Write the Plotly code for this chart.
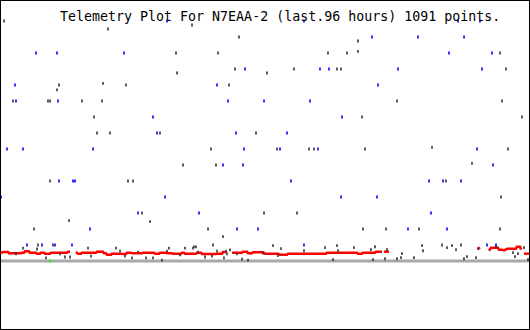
import plotly.graph_objects as go

TITLE = "Telemetry Plot For N7EAA-2 (last.96 hours) 1091 points."

# x: hours within the 96-hour window; y: channel level
blue_hours = [30.25, 55.06, 82.96, 86.94,
              67.38, 75.71, 84.05,
              6.52, 10.32, 22.46, 81.33, 89.12,
              44.38, 57.96, 59.59, 72.09, 87.31,
              2.72, 39.31, 68.47,
              2.90, 10.51, 41.30, 47.82, 56.15,
              27.71, 61.95,
              28.44, 42.75, 51.99,
              1.27, 4.17, 16.85, 44.20, 50.72, 57.60, 86.40,
              40.39, 44.02, 89.30,
              10.69, 13.22, 13.58, 52.71, 77.71, 80.24, 83.50,
              0.18, 29.89, 61.77, 68.29,
              25.00, 36.05, 78.07,
              16.30, 42.93, 46.73, 73.90, 80.97,
              4.89, 7.61, 9.96, 13.04, 55.06, 88.21, 89.84]
blue_level = [15] * 4 + [14] * 3 + [13] * 5 + [12] * 5 + [11] * 3 + [10] * 5 + [9] * 2 + \
             [8] * 3 + [7] * 7 + [6] * 3 + [5] * 7 + [4] * 4 + [3] * 3 + [2] * 5 + [1] * 7

black_hours = [0.72, 34.78, 19.56, 43.29, 64.84, 31.88, 39.49, 59.41, 62.85, 64.84, 90.57,
               42.57, 53.25, 61.04, 61.77, 91.65, 32.06, 48.36, 10.69, 18.66, 22.82, 41.48,
               10.32, 2.35, 8.69, 9.06, 14.85, 18.48, 71.91, 90.93, 17.03, 65.57, 94.55,
               17.57, 19.92, 28.98, 46.37, 38.22, 50.17, 55.97, 56.87, 66.11, 78.25, 92.01,
               33.15, 39.12, 85.49, 9.06, 23.18, 24.09, 80.78, 90.75, 25.72, 47.82, 53.80,
               12.50, 27.17, 6.16, 37.68, 65.75, 69.92, 75.89, 90.57, 40.39, 6.88, 9.60,
               38.58, 80.06, 83.50, 49.45, 61.04, 76.44, 81.87,
               4.17, 6.70, 2.90, 8.33, 11.77, 12.68, 10.87, 15.94, 16.48, 21.01, 21.74,
               22.64, 23.91, 25.00, 26.44, 27.71, 29.34, 30.25, 30.61, 32.60, 33.51, 34.96,
               35.14, 35.50, 35.86, 37.13, 38.40, 39.31, 40.57, 40.94, 41.12, 41.66, 42.93,
               43.83, 44.92, 47.64, 50.90, 55.06, 58.87, 61.22, 64.12, 67.20, 67.92, 70.10,
               72.81, 72.63, 71.91, 69.74, 67.56, 60.32, 50.35, 76.62, 74.99, 80.97, 82.60,
               84.59, 84.04, 86.22, 86.58, 89.84, 92.92, 93.83, 93.28, 94.91, 95.64]
black_level = [15, 14.75, 14.5, 14, 13.75, 13, 13, 13, 13, 13.1, 13,
               12, 12, 12, 12, 12, 11.75, 11.75, 11, 11.1, 11, 11,
               10.7, 10, 10, 10, 10, 10, 10, 10, 9, 9, 9,
               8, 8, 8, 8, 7, 7, 7, 7, 7, 7.1, 7,
               6, 6, 6.1, 5, 5, 5, 5, 4, 3, 3, 3,
               2.52, 2.46, 2, 2, 2, 2, 2, 2, 1.52, 1, 1,
               1, 1, 1, 0.96, 0.96, 0.96, 0.96,
               0.81, 0.75, 0.44, 0.19, 0.25, 0.25, 0.44, 0.81, 0.31, 0.81, 0.62,
               0.31, 0.19, 0.56, 0.19, 0.19, 0.06, 0.62, 0.81, 0.38, 0.81, 0.81,
               0.88, 0.88, 0.56, 0.25, 0.31, 0.62, 0.19, 0.62, 0.44, 0.69, 0.44,
               0.12, 0.06, 0.5, 0.77, 0.64, 0.83, 0.64, 0.83, 0.71, 0.89, 0.71,
               0.46, 0.21, 0.14, 0.14, 0.08, 0.08, 0.33, 0.64, 0.21, 0.83, 0.71,
               0.27, 0.14, 0.21, 0.77, 0.89, 0.52, 0.46, 0.27, 0.83, 0.08]

# red channel (None = gap in data)
red_hours = [0.18, 0.54, 1.45, 1.63, 3.80, 3.98, 4.35, 4.53, 5.25, 5.43, 6.52, 6.70, 7.25, 7.43,
             7.97, 8.15, 9.06, 9.24, 12.14, 12.32, 12.68, None,
             13.77, 14.13, 14.67, 14.85, 17.39, 17.57, 18.66, 18.84, 19.20, 19.38, 20.11, 20.29,
             21.92, 22.10, 22.82, 23.00, 23.73, 23.91, 25.72, 25.90, 27.89, 28.08, 28.80, 28.98,
             30.07, 30.25, 31.15, 31.34, 32.78, 32.97, 33.33, 33.51, 35.50, 35.68, 36.41, 36.59,
             39.12, 39.31, 40.21, 40.39, 41.12, None,
             42.02, 43.83, 44.01, 44.74, 44.92, 45.64, 45.83, 47.64, 48.00, 50.35, 50.72, 51.98,
             52.17, 54.70, 54.88, 56.33, 56.51, 59.05, 59.23, 64.66, 64.84, 65.57, 65.75, 67.92,
             68.10, 69.19, None,
             69.55, 70.46, None,
             86.58, 86.94, None,
             88.57, 88.93, 90.20, 90.38, 90.93, 91.29, 91.65, 91.83, 93.46, 93.64, 94.19, 94.37, None,
             94.91, 96.00]
red_level = [0.5, 0.56, 0.56, 0.48, 0.48, 0.52, 0.52, 0.61, 0.61, 0.52, 0.52, 0.46, 0.46, 0.52,
             0.52, 0.46, 0.46, 0.52, 0.52, 0.58, 0.58, None,
             0.56, 0.46, 0.46, 0.52, 0.52, 0.58, 0.58, 0.48, 0.48, 0.39, 0.39, 0.46,
             0.46, 0.44, 0.44, 0.52, 0.52, 0.48, 0.48, 0.52, 0.52, 0.46, 0.46, 0.52,
             0.52, 0.48, 0.48, 0.46, 0.46, 0.52, 0.52, 0.46, 0.46, 0.52, 0.52, 0.44,
             0.44, 0.46, 0.46, 0.56, 0.56, None,
             0.52, 0.52, 0.58, 0.58, 0.48, 0.48, 0.54, 0.54, 0.46, 0.46, 0.39, 0.39,
             0.46, 0.46, 0.5, 0.5, 0.46, 0.46, 0.52, 0.52, 0.46, 0.46, 0.52, 0.52,
             0.58, 0.58, None,
             0.58, 0.58, None,
             0.75, 0.84, None,
             0.64, 0.83, 0.83, 0.71, 0.71, 0.66, 0.72, 0.77, 0.77, 0.89, 0.89, 0.71, None,
             0.46, 0.46]

baseline_hours = [0, 96]
baseline_level = [0, 0]
green_hours = [9.06]
green_level = [0]

fig = go.Figure()
fig.add_trace(go.Scatter(x=baseline_hours, y=baseline_level, mode="lines",
                         line=dict(color="#a8a8a8", width=3), hoverinfo="skip"))
fig.add_trace(go.Scatter(x=red_hours, y=red_level, mode="lines", connectgaps=False,
                         line=dict(color="#ff0000", width=2.5), hoverinfo="skip"))
fig.add_trace(go.Scatter(x=black_hours, y=black_level, mode="markers",
                         marker=dict(symbol="line-ns", size=2,
                                     line=dict(color="#333333", width=1.6))))
fig.add_trace(go.Scatter(x=blue_hours, y=blue_level, mode="markers",
                         marker=dict(symbol="line-ns", size=2,
                                     line=dict(color="#0000ff", width=1.6))))
fig.add_trace(go.Scatter(x=green_hours, y=green_level, mode="markers",
                         marker=dict(symbol="line-ns", size=2,
                                     line=dict(color="#00ff00", width=1.6))))

fig.add_annotation(text=TITLE, xref="paper", yref="paper", x=58 / 530, y=1 - 16.5 / 330,
                   xanchor="left", yanchor="middle", showarrow=False,
                   font=dict(family="DejaVu Sans Mono", size=13.3, color="#000000"))

fig.add_shape(type="rect", xref="paper", yref="paper", x0=0, y0=0, x1=1, y1=1,
              line=dict(color="#000000", width=2), layer="above")

fig.update_layout(width=530, height=330, margin=dict(l=0, r=0, t=0, b=0),
                  paper_bgcolor="#ffffff", plot_bgcolor="#ffffff", showlegend=False,
                  xaxis=dict(visible=False, range=[0, 96], fixedrange=True),
                  yaxis=dict(visible=False, range=[-4.3125, 16.3125], fixedrange=True))

fig.write_html("out.html")
